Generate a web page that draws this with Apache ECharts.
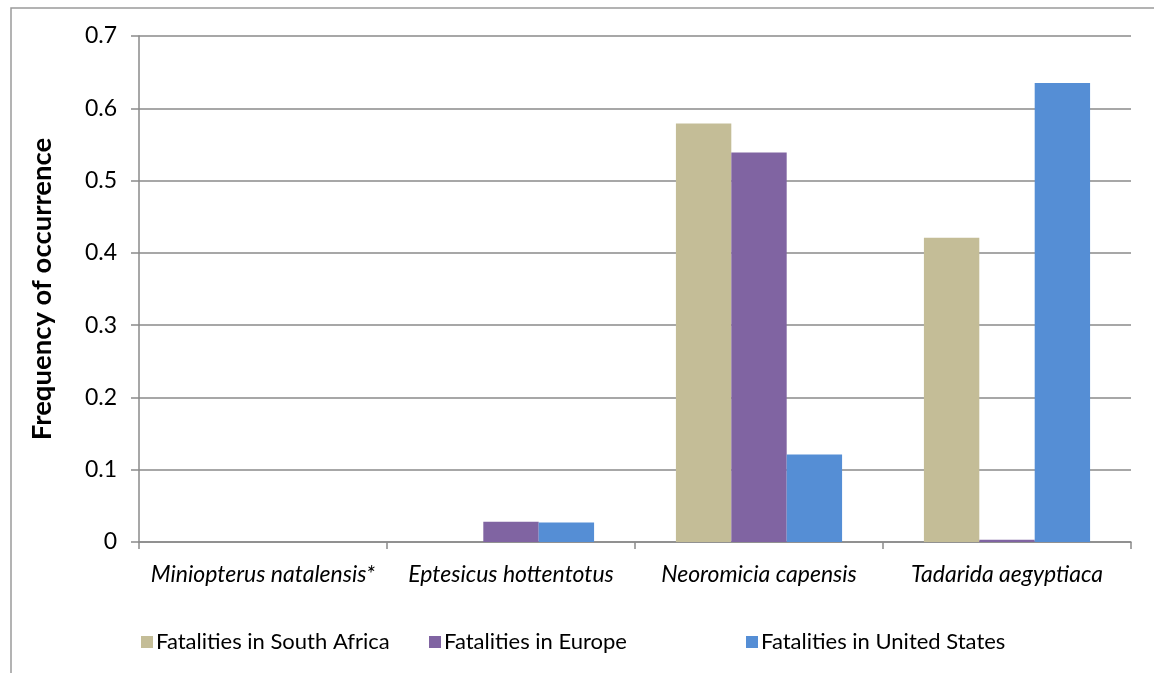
<!DOCTYPE html>
<html>
<head>
<meta charset="utf-8">
<script src="https://cdn.jsdelivr.net/npm/echarts@6/dist/echarts.min.js"></script>
<style>
  html, body { margin: 0; padding: 0; background: #fff; }
  #chart { width: 1154px; height: 673px; }
</style>
</head>
<body>
<div id="chart"></div>
<script>
const species = ['Miniopterus natalensis*', 'Eptesicus hottentotus', 'Neoromicia capensis', 'Tadarida aegyptiaca'];
const seriesNames = ['Fatalities in South Africa', 'Fatalities in Europe', 'Fatalities in United States'];
const southAfrica = [0, 0, 0.579, 0.421];
const europe = [0, 0.028, 0.539, 0.003];
const unitedStates = [0, 0.027, 0.121, 0.635];
const yTicks = [0, 0.1, 0.2, 0.3, 0.4, 0.5, 0.6, 0.7];

const font = 'Lato';
const grey = '#8a8a8a';
const colors = ['#C4BD97', '#8064A2', '#558ED5'];

const myChart = echarts.init(document.getElementById('chart'), null, { renderer: 'canvas' });

const barSeries = (name, data, color) => ({
  name: name,
  type: 'bar',
  data: data,
  barGap: '0%',
  barCategoryGap: '33%',
  itemStyle: { color: color }
});

// excel spaces the legend items unevenly, so one legend per item
const legendLefts = [136, 424, 741];
const legends = seriesNames.map((n, i) => ({
  left: legendLefts[i],
  top: 626,
  icon: 'rect',
  itemWidth: 12,
  itemHeight: 12,
  textStyle: { fontFamily: font, fontSize: 22, color: '#000', padding: [0, 0, 0, -2] },
  data: [n]
}));

const option = {
  animation: false,
  backgroundColor: '#fff',
  textStyle: { fontFamily: font },
  graphic: [{
    type: 'rect',
    shape: { x: 11, y: 8, width: 1300, height: 800 },
    style: { fill: 'none', stroke: '#9a9a9a', lineWidth: 1.5 },
    silent: true,
    z: -1
  }],
  grid: { left: 139, top: 36, right: 23, bottom: 131 },
  legend: legends,
  xAxis: {
    type: 'category',
    data: species,
    axisLine: { lineStyle: { color: grey, width: 1.5 } },
    axisTick: { show: true, length: 7, lineStyle: { color: grey, width: 1.5 } },
    axisLabel: { margin: 21, fontFamily: font, fontSize: 23, fontStyle: 'italic', color: '#000', interval: 0 }
  },
  yAxis: {
    type: 'value',
    min: 0,
    max: 0.7,
    interval: 0.1,
    name: 'Frequency of occurrence',
    nameLocation: 'middle',
    nameGap: 83,
    nameTextStyle: { fontFamily: font, fontSize: 27.5, fontWeight: 'bold', color: '#000' },
    axisLine: { show: true, lineStyle: { color: grey, width: 1.5 } },
    axisTick: { show: true, length: 8, lineStyle: { color: grey, width: 1.5 } },
    axisLabel: {
      margin: 22, fontFamily: font, fontSize: 23, color: '#000',
      formatter: v => {
        const t = yTicks.find(x => Math.abs(x - v) < 1e-9);
        return t === undefined ? '' : String(t);
      }
    },
    splitLine: { lineStyle: { color: grey, width: 1.5 } }
  },
  series: [
    barSeries(seriesNames[0], southAfrica, colors[0]),
    barSeries(seriesNames[1], europe, colors[1]),
    barSeries(seriesNames[2], unitedStates, colors[2])
  ]
};

myChart.setOption(option);
</script>
</body>
</html>
